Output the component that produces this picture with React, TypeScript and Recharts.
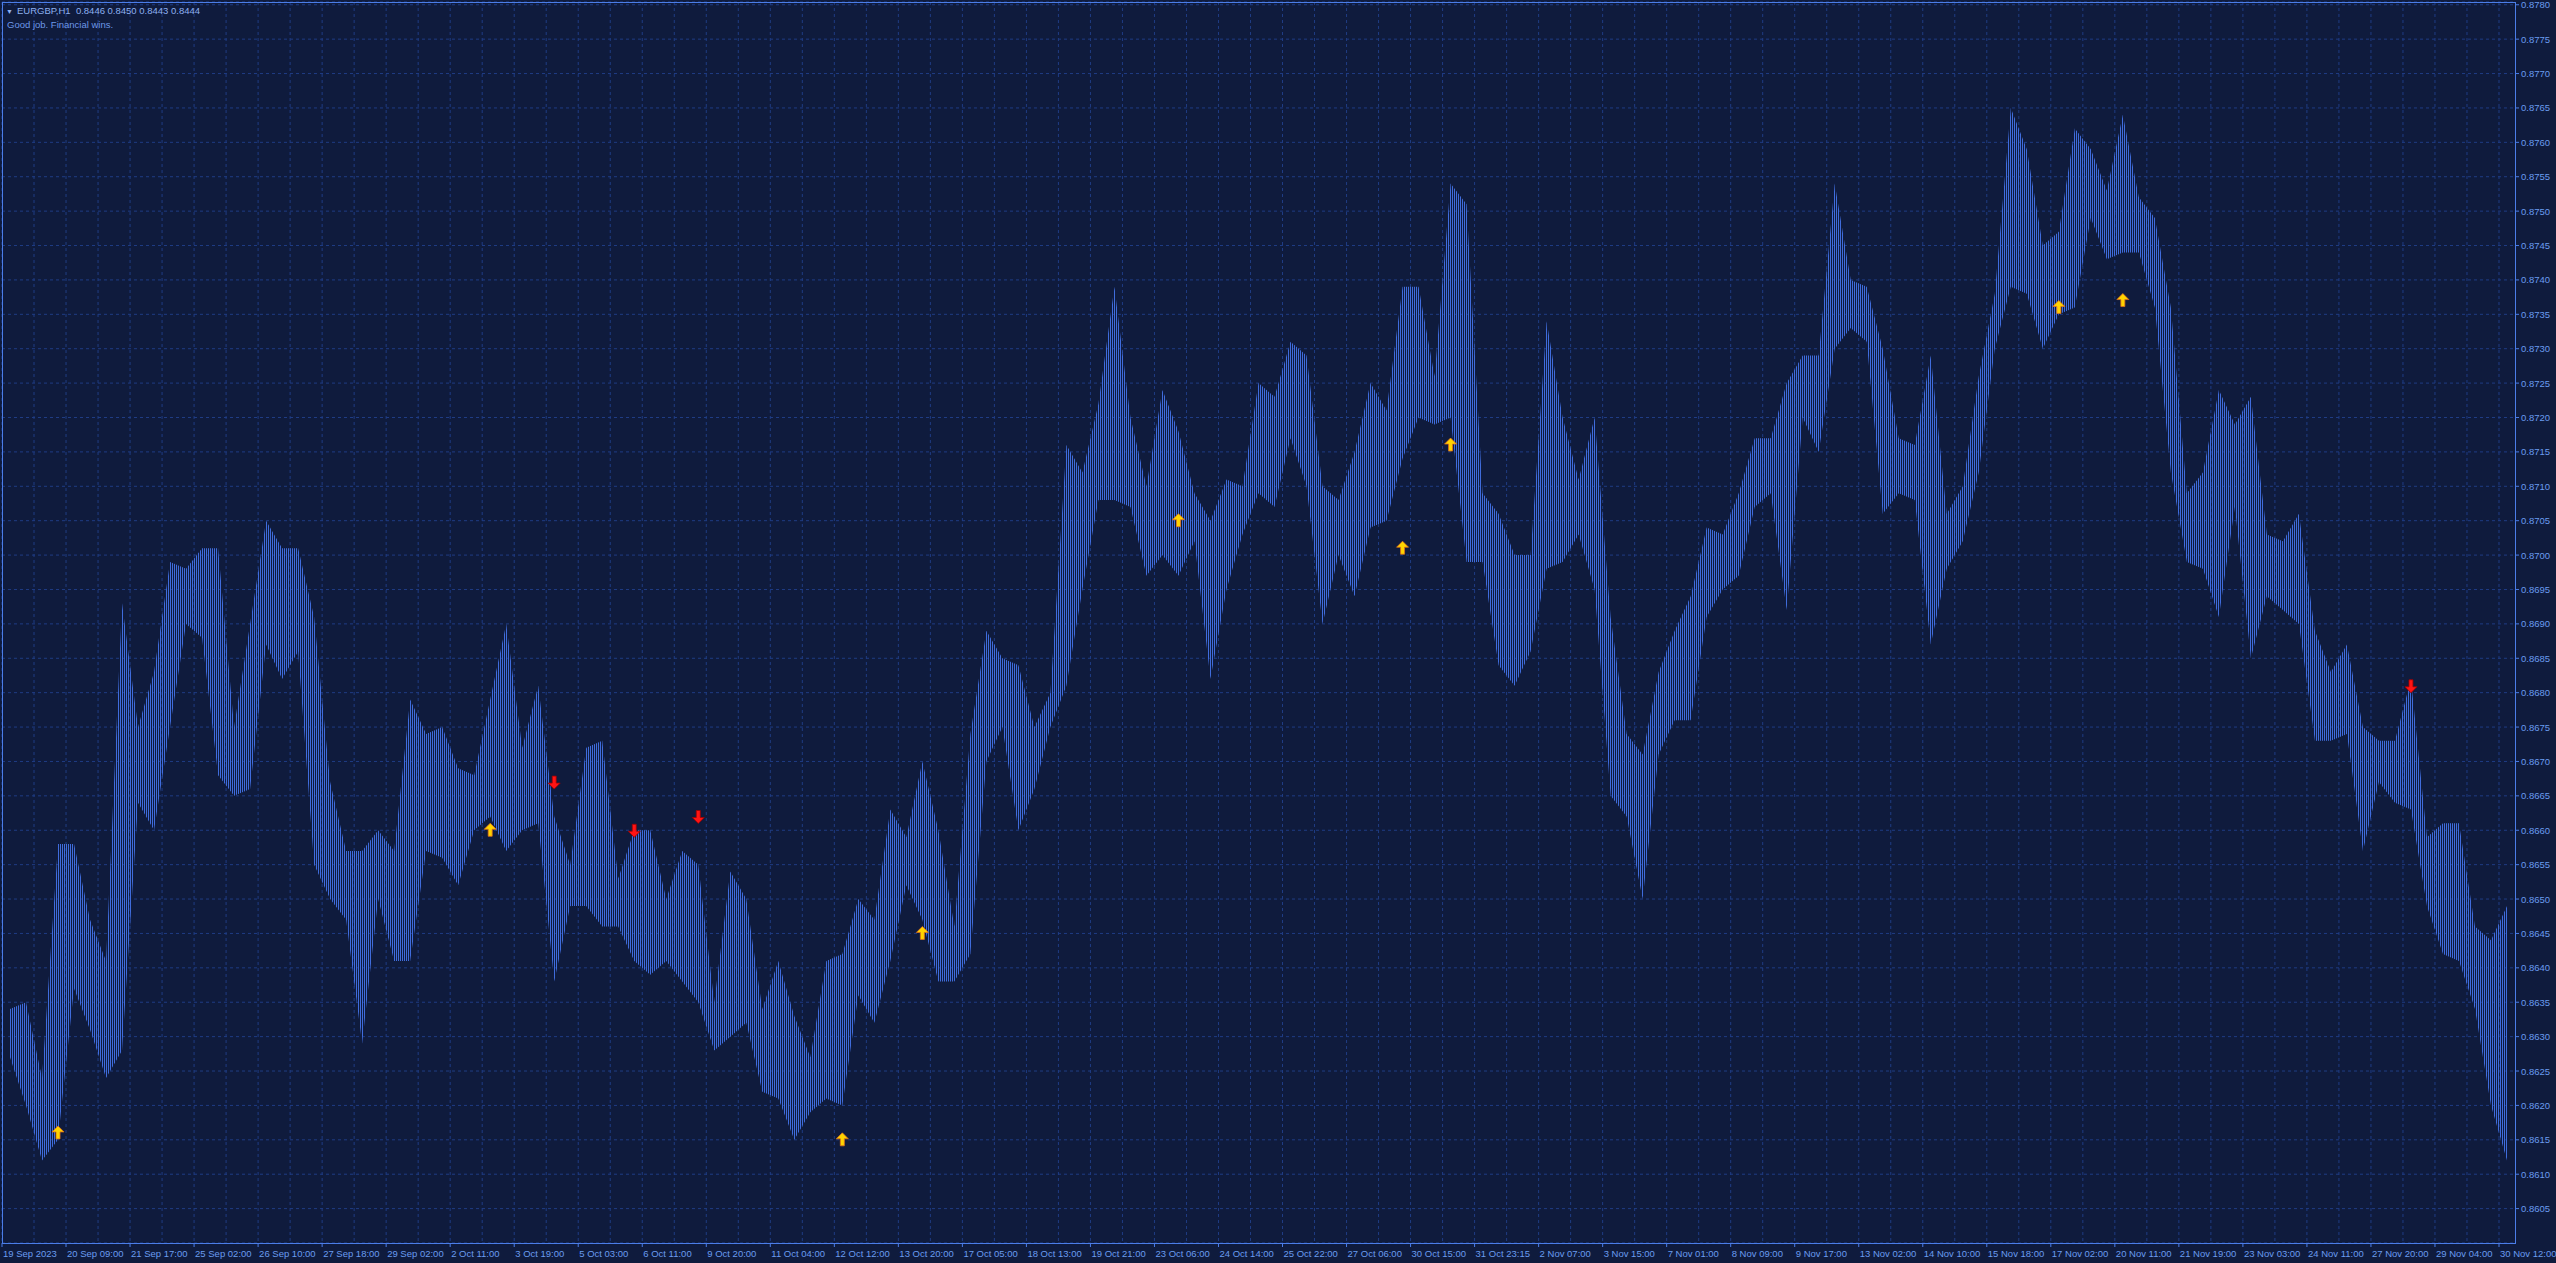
import { Area, CartesianGrid, ComposedChart, Line, XAxis, YAxis } from "recharts"

// H1 bars grouped 8 per slot: high / low of each slot
const highs = [
  0.8634, 0.8635, 0.8624, 0.8658, 0.8658, 0.8647, 0.8641, 0.8693, 0.8675, 0.8683,
  0.8699, 0.8698, 0.8701, 0.8701, 0.8675, 0.869, 0.8705, 0.8701, 0.8701, 0.8691,
  0.8667, 0.8657, 0.8657, 0.866, 0.8657, 0.8679, 0.8674, 0.8675, 0.8669, 0.8668,
  0.8679, 0.869, 0.8672, 0.8681, 0.8662, 0.8655, 0.8672, 0.8673, 0.8653, 0.866,
  0.866, 0.865, 0.8657, 0.8655, 0.8635, 0.8654, 0.865, 0.8634, 0.8641, 0.8633,
  0.8627, 0.8641, 0.8642, 0.865, 0.8647, 0.8663, 0.8659, 0.867, 0.866, 0.8646,
  0.8674, 0.8689, 0.8685, 0.8684, 0.8675, 0.868, 0.8716, 0.8712, 0.8722, 0.8739,
  0.872, 0.871, 0.8724, 0.8718, 0.8709, 0.8705, 0.8711, 0.871, 0.8725, 0.8723,
  0.8731, 0.8729, 0.871, 0.8708, 0.8715, 0.8725, 0.8721, 0.8739, 0.8739, 0.8726,
  0.8754, 0.8751, 0.8709, 0.8706, 0.87, 0.87, 0.8734, 0.872, 0.8711, 0.872,
  0.8691, 0.8674, 0.8671, 0.8683, 0.8689, 0.8694, 0.8704, 0.8703, 0.8709, 0.8717,
  0.8717, 0.8725, 0.8729, 0.8729, 0.8754, 0.874, 0.8739, 0.873, 0.8717, 0.8716,
  0.8729, 0.8706, 0.871, 0.8726, 0.8738, 0.8765, 0.8759, 0.8745, 0.8747, 0.8762,
  0.8759, 0.8753, 0.8764, 0.8752, 0.8749, 0.8736, 0.8709, 0.8712, 0.8724, 0.8719,
  0.8723, 0.8703, 0.8702, 0.8706, 0.8689, 0.8683, 0.8687, 0.8675, 0.8673, 0.8673,
  0.8682, 0.8659, 0.8661, 0.8661, 0.8646, 0.8644, 0.8649,
]

const lows = [
  0.8627, 0.862, 0.8612, 0.8615, 0.8637, 0.8631, 0.8624, 0.8628, 0.8664, 0.866,
  0.8675, 0.869, 0.8688, 0.8668, 0.8665, 0.8666, 0.8687, 0.8682, 0.8686, 0.8655,
  0.865, 0.8647, 0.8629, 0.865, 0.8641, 0.8641, 0.8657, 0.8656, 0.8652, 0.866,
  0.8662, 0.8657, 0.866, 0.8661, 0.8638, 0.8649, 0.8649, 0.8646, 0.8646, 0.8641,
  0.8639, 0.8641, 0.8638, 0.8635, 0.8628, 0.863, 0.8632, 0.8622, 0.8621, 0.8615,
  0.8619, 0.8621, 0.862, 0.8636, 0.8632, 0.8641, 0.8652, 0.8647, 0.8638, 0.8638,
  0.8642, 0.867, 0.8675, 0.866, 0.8666, 0.8675, 0.8681, 0.8695, 0.8708, 0.8708,
  0.8707, 0.8697, 0.87, 0.8697, 0.8702, 0.8682, 0.8695, 0.8703, 0.8709, 0.8707,
  0.8717, 0.871, 0.869, 0.87, 0.8694, 0.8704, 0.8705, 0.8714, 0.872, 0.8719,
  0.872, 0.8699, 0.8699, 0.8684, 0.8681, 0.8686, 0.8698, 0.8699, 0.8703, 0.8695,
  0.8665, 0.8662, 0.865, 0.8671, 0.8676, 0.8676, 0.8691, 0.8695, 0.8697, 0.8707,
  0.8709, 0.8692, 0.872, 0.8715, 0.873, 0.8733, 0.8731, 0.8706, 0.8709, 0.8708,
  0.8687, 0.8698, 0.8702, 0.8712, 0.873, 0.8739, 0.8738, 0.873, 0.8735, 0.8736,
  0.8749, 0.8743, 0.8744, 0.8744, 0.8736, 0.8712, 0.8699, 0.8698, 0.8691, 0.8707,
  0.8685, 0.8694, 0.8692, 0.869, 0.8673, 0.8673, 0.8674, 0.8657, 0.8667, 0.8664,
  0.8663, 0.8649, 0.8642, 0.8641, 0.8634, 0.862, 0.8612,
]

const timeLabels = [
  "19 Sep 2023", "20 Sep 09:00", "21 Sep 17:00", "25 Sep 02:00", "26 Sep 10:00",
  "27 Sep 18:00", "29 Sep 02:00", "2 Oct 11:00", "3 Oct 19:00", "5 Oct 03:00",
  "6 Oct 11:00", "9 Oct 20:00", "11 Oct 04:00", "12 Oct 12:00", "13 Oct 20:00",
  "17 Oct 05:00", "18 Oct 13:00", "19 Oct 21:00", "23 Oct 06:00", "24 Oct 14:00",
  "25 Oct 22:00", "27 Oct 06:00", "30 Oct 15:00", "31 Oct 23:15", "2 Nov 07:00",
  "3 Nov 15:00", "7 Nov 01:00", "8 Nov 09:00", "9 Nov 17:00", "13 Nov 02:00",
  "14 Nov 10:00", "15 Nov 18:00", "17 Nov 02:00", "20 Nov 11:00", "21 Nov 19:00",
  "23 Nov 03:00", "24 Nov 11:00", "27 Nov 20:00", "29 Nov 04:00", "30 Nov 12:00",
]

const priceTicks = [
  0.8605, 0.861, 0.8615, 0.862, 0.8625, 0.863, 0.8635, 0.864, 0.8645, 0.865,
  0.8655, 0.866, 0.8665, 0.867, 0.8675, 0.868, 0.8685, 0.869, 0.8695, 0.87,
  0.8705, 0.871, 0.8715, 0.872, 0.8725, 0.873, 0.8735, 0.874, 0.8745, 0.875,
  0.8755, 0.876, 0.8765, 0.877, 0.8775, 0.878,
]

// signal arrows: slot index and price
const buyIdx = [3, 30, 52, 57, 73, 87, 90, 128, 132]
const buyPrice = [0.8616, 0.866, 0.8615, 0.8645, 0.8705, 0.8701, 0.8716, 0.8736, 0.8737]
const sellIdx = [34, 39, 43, 150]
const sellPrice = [0.8667, 0.866, 0.8662, 0.8681]

const BG = "#0f1b3d"
const GRID = "#1f3c84"
const BARS = "#3f6cdc"
const AXIS = "#4b7de8"
const TEXT = "#6a9bf0"
const FONT = "'Liberation Sans', Arial, sans-serif"
const HALF_SLOT = 8

const data = highs.map((h, i) => ({
  slot: String(i),
  range: [lows[i], h],
  buy: buyIdx.includes(i) ? buyPrice[buyIdx.indexOf(i)] : null,
  sell: sellIdx.includes(i) ? sellPrice[sellIdx.indexOf(i)] : null,
}))

const labelSlots = timeLabels.map((_, k) => String(k * 4))

function TimeTick(props: any) {
  const { x, y, payload } = props
  const x0 = x - HALF_SLOT
  const label = timeLabels[Number(payload.value) / 4]
  return (
    <g>
      <line x1={x0} x2={x0} y1={y} y2={y + 4} stroke={AXIS} />
      <text x={x0 + 1} y={y + 14} fill={TEXT} fontSize={9.5} fontFamily={FONT}>
        {label}
      </text>
    </g>
  )
}

function PriceTick(props: any) {
  const { x, y, payload } = props
  return (
    <g>
      <line x1={x} x2={x + 4} y1={y} y2={y} stroke={AXIS} />
      <text x={x + 6} y={y + 3.5} fill={TEXT} fontSize={9.5} fontFamily={FONT}>
        {Number(payload.value).toFixed(4)}
      </text>
    </g>
  )
}

function BuyArrow(props: any) {
  const { cx, cy, value } = props
  if (value == null || cx == null || cy == null || isNaN(cy)) return null
  const d = `M${cx},${cy - 7} L${cx + 6},${cy - 1} L${cx + 2},${cy - 1} L${cx + 2},${cy + 6} L${cx - 2},${cy + 6} L${cx - 2},${cy - 1} L${cx - 6},${cy - 1} Z`
  return <path d={d} fill="#ffd400" stroke="#e0701c" strokeWidth={0.8} />
}

function SellArrow(props: any) {
  const { cx, cy, value } = props
  if (value == null || cx == null || cy == null || isNaN(cy)) return null
  const d = `M${cx},${cy + 7} L${cx + 6},${cy + 1} L${cx + 2},${cy + 1} L${cx + 2},${cy - 6} L${cx - 2},${cy - 6} L${cx - 2},${cy + 1} L${cx - 6},${cy + 1} Z`
  return <path d={d} fill="#ff1414" stroke="#a00000" strokeWidth={0.8} />
}

export default function App() {
  return (
    <div style={{ position: "fixed", left: 0, top: 0, width: 2556, height: 1263, background: BG, overflow: "hidden" }}>
      <ComposedChart
        width={2556}
        height={1263}
        data={data}
        margin={{ top: 2, right: 0, bottom: 0, left: 2 }}
      >
        <defs>
          <pattern id="barHatch" width={2} height={10} patternUnits="userSpaceOnUse">
            <rect x={0} y={0} width={1} height={10} fill={BARS} />
          </pattern>
        </defs>
        <CartesianGrid
          stroke={GRID}
          strokeDasharray="3 3"
          verticalCoordinatesGenerator={(p: any) => {
            const o = p && p.offset ? p.offset : { left: 2, width: 2513 }
            const band = o.width / highs.length
            const out: number[] = []
            for (let k = 0; k * 2 < highs.length; k++) out.push(o.left + k * 2 * band)
            return out
          }}
        />
        <XAxis
          dataKey="slot"
          ticks={labelSlots}
          interval={0}
          height={20}
          padding={{ left: HALF_SLOT, right: HALF_SLOT }}
          axisLine={false}
          tickLine={false}
          tickSize={0}
          tickMargin={0}
          tick={<TimeTick />}
        />
        <YAxis
          orientation="right"
          type="number"
          domain={[0.86, 0.87804]}
          allowDataOverflow
          ticks={priceTicks}
          interval={0}
          width={41}
          axisLine={false}
          tickLine={false}
          tickSize={0}
          tickMargin={0}
          tick={<PriceTick />}
        />
        <Area
          type="linear"
          dataKey="range"
          stroke="none"
          fill="url(#barHatch)"
          fillOpacity={1}
          activeDot={false}
          isAnimationActive={false}
        />
        <Line dataKey="buy" stroke="none" dot={<BuyArrow />} activeDot={false} isAnimationActive={false} />
        <Line dataKey="sell" stroke="none" dot={<SellArrow />} activeDot={false} isAnimationActive={false} />
      </ComposedChart>
      <div
        style={{
          position: "absolute",
          left: 2,
          top: 2,
          width: 2514,
          height: 1242,
          boxSizing: "border-box",
          border: `1px solid ${AXIS}`,
          pointerEvents: "none",
        }}
      />
      <div style={{ position: "absolute", left: 6, top: 4, fontFamily: FONT, fontSize: 9.5, color: "#8db0f0", whiteSpace: "pre", lineHeight: "13px" }}>
        <span style={{ fontSize: 7, marginRight: 4 }}>▼</span>
        {"EURGBP,H1  0.8446 0.8450 0.8443 0.8444"}
      </div>
      <div style={{ position: "absolute", left: 7, top: 18, fontFamily: FONT, fontSize: 9.5, color: "#6d98e8", whiteSpace: "pre", lineHeight: "13px" }}>
        Good job. Financial wins.
      </div>
    </div>
  )
}
